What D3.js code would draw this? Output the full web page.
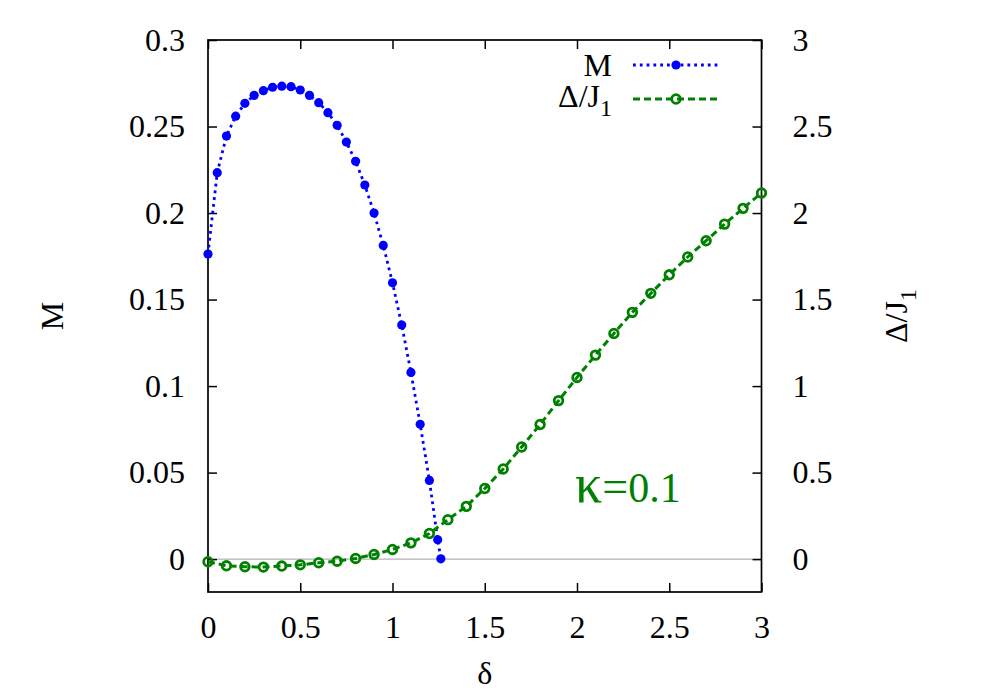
<!DOCTYPE html>
<html>
<head>
<meta charset="utf-8">
<script src="https://cdn.jsdelivr.net/npm/d3@7"></script>
<style>
html,body{margin:0;padding:0;background:#fff;}
svg{display:block;font-family:"Liberation Serif","DejaVu Serif",serif;}
</style>
</head>
<body>
<svg id="chart" width="1000" height="700"></svg>
<script>
// ---- data ----
const mDelta = [0,0.05,0.1,0.15,0.2,0.25,0.3,0.35,0.4,0.45,0.5,0.55,0.6,0.65,0.7,0.75,0.8,0.85,0.9,0.95,1.0,1.05,1.1,1.15,1.2,1.245,1.262];
const mValues = [0.1763,0.2233,0.2445,0.256,0.2634,0.268,0.2707,0.2727,0.2733,0.273,0.2711,0.268,0.2638,0.258,0.2507,0.241,0.2299,0.2162,0.2,0.1813,0.1597,0.1353,0.1079,0.0779,0.0455,0.0112,0.0002];
const gapDelta = [0,0.1,0.2,0.3,0.4,0.5,0.6,0.7,0.8,0.9,1.0,1.1,1.2,1.3,1.4,1.5,1.6,1.7,1.8,1.9,2.0,2.1,2.2,2.3,2.4,2.5,2.6,2.7,2.8,2.9,3.0];
const gapValues = [-0.015,-0.0385,-0.044,-0.046,-0.040,-0.033,-0.021,-0.012,0.004,0.027,0.056,0.094,0.148,0.228,0.305,0.408,0.521,0.648,0.778,0.916,1.05,1.179,1.304,1.426,1.536,1.643,1.746,1.84,1.936,2.027,2.116];
const xTicks = [0,0.5,1,1.5,2,2.5,3];
const xTickLabels = ["0","0.5","1","1.5","2","2.5","3"];
const yTicks = [0,0.05,0.1,0.15,0.2,0.25,0.3];
const yTickLabels = ["0","0.05","0.1","0.15","0.2","0.25","0.3"];
const y2Ticks = [0,0.5,1,1.5,2,2.5,3];
const y2TickLabels = ["0","0.5","1","1.5","2","2.5","3"];
const seriesNames = ["M","Δ/J"];
const annotationSymbol = "κ";
const annotationText = "=0.1";

// ---- layout ----
const L = 208, R = 761.5, T = 40, B = 592;
const FS = 32;
const SUB = 24;
const blue = "#0000ff", green = "#008000";

const svg = d3.select("#chart");
const x = d3.scaleLinear().domain([0,3]).range([L,R]);
const y = d3.scaleLinear().domain([-0.019,0.3]).range([B,T]);
const y2 = d3.scaleLinear().domain([-0.19,3]).range([B,T]);

// zero line
svg.append("line").attr("x1",L).attr("x2",R).attr("y1",y(0)).attr("y2",y(0))
  .attr("stroke","#a0a0a0").attr("stroke-width",1);

function styleAxis(g){
  g.attr("font-family",null).attr("font-size",null);
  g.select(".domain").remove();
  g.selectAll(".tick line").attr("stroke","#000").attr("stroke-width",1.5);
  g.selectAll(".tick text").attr("fill","#000").style("font-size",FS+"px")
    .style("font-family",'"Liberation Serif","DejaVu Serif",serif');
}

// bottom
svg.append("g").attr("transform",`translate(0,${B})`)
  .call(d3.axisBottom(x).tickValues(xTicks).tickFormat((d,i)=>xTickLabels[i]).tickSizeInner(-9).tickSizeOuter(0).tickPadding(23))
  .call(styleAxis);
// top (mirror ticks, no labels)
svg.append("g").attr("transform",`translate(0,${T})`)
  .call(d3.axisTop(x).tickValues(xTicks).tickFormat("").tickSizeInner(-9).tickSizeOuter(0))
  .call(styleAxis);
// left
svg.append("g").attr("transform",`translate(${L},0)`)
  .call(d3.axisLeft(y).tickValues(yTicks).tickFormat((d,i)=>yTickLabels[i]).tickSizeInner(-9).tickSizeOuter(0).tickPadding(23))
  .call(styleAxis);
// right
svg.append("g").attr("transform",`translate(${R},0)`)
  .call(d3.axisRight(y2).tickValues(y2Ticks).tickFormat((d,i)=>y2TickLabels[i]).tickSizeInner(-9).tickSizeOuter(0).tickPadding(31))
  .call(styleAxis);

// frame
svg.append("rect").attr("x",L).attr("y",T).attr("width",R-L).attr("height",B-T)
  .attr("fill","none").attr("stroke","#000").attr("stroke-width",1.7);

const mData = mDelta.map((d,i)=>({x:d,y:mValues[i]}));
const gData = gapDelta.map((d,i)=>({x:d,y:gapValues[i]}));

// M series
svg.append("path").datum(mData)
  .attr("d",d3.line().x(d=>x(d.x)).y(d=>y(d.y)))
  .attr("fill","none").attr("stroke",blue).attr("stroke-width",2.8).attr("stroke-dasharray","2.8,4");
svg.append("g").selectAll("circle").data(mData).join("circle")
  .attr("cx",d=>x(d.x)).attr("cy",d=>y(d.y)).attr("r",4.6).attr("fill",blue);

// gap series
svg.append("path").datum(gData)
  .attr("d",d3.line().x(d=>x(d.x)).y(d=>y2(d.y)))
  .attr("fill","none").attr("stroke",green).attr("stroke-width",3).attr("stroke-dasharray","7,4");
svg.append("g").selectAll("circle").data(gData).join("circle")
  .attr("cx",d=>x(d.x)).attr("cy",d=>y2(d.y)).attr("r",4.3)
  .attr("fill","none").attr("stroke",green).attr("stroke-width",2.8);

// axis titles
svg.append("text").attr("transform",`translate(63,${(T+B)/2}) rotate(-90)`)
  .attr("text-anchor","middle").style("font-size",FS+"px").text("M");
const t2 = svg.append("text").attr("transform",`translate(907,${(T+B)/2}) rotate(-90)`)
  .attr("text-anchor","middle").style("font-size",FS+"px");
t2.append("tspan").text(seriesNames[1]);
t2.append("tspan").attr("dy",9).style("font-size",SUB+"px").text("1");
svg.append("text").attr("x",(L+R)/2).attr("y",684).attr("text-anchor","middle")
  .style("font-size",FS+"px").text("δ");

// legend
const lg = svg.append("g");
lg.append("text").attr("x",612).attr("y",76).attr("text-anchor","end").style("font-size",FS+"px").text(seriesNames[0]);
const lt = lg.append("text").attr("x",612).attr("y",107).attr("text-anchor","end").style("font-size",FS+"px");
lt.append("tspan").text(seriesNames[1]);
lt.append("tspan").attr("dy",9).style("font-size",SUB+"px").text("1");
lg.append("line").attr("x1",633).attr("x2",720).attr("y1",65).attr("y2",65)
  .attr("stroke",blue).attr("stroke-width",2.8).attr("stroke-dasharray","2.8,4");
lg.append("circle").attr("cx",676).attr("cy",65).attr("r",4.6).attr("fill",blue);
lg.append("line").attr("x1",633).attr("x2",720).attr("y1",99).attr("y2",99)
  .attr("stroke",green).attr("stroke-width",3).attr("stroke-dasharray","7,4");
lg.append("circle").attr("cx",676).attr("cy",99).attr("r",4.3).attr("fill","none").attr("stroke",green).attr("stroke-width",2.8);

// annotation
const an = svg.append("text").attr("x",575).attr("y",502).attr("fill",green).style("font-size","42px");
an.append("tspan").style("font-size","54px").text(annotationSymbol);
an.append("tspan").style("font-size","46px").text(annotationText.charAt(0));
an.append("tspan").text(annotationText.slice(1));
</script>
</body>
</html>
